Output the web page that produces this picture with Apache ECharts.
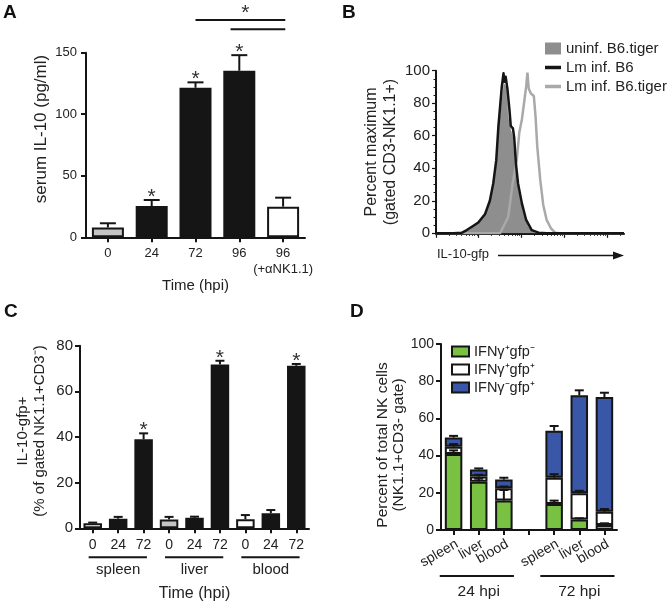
<!DOCTYPE html>
<html><head><meta charset="utf-8">
<script src="https://cdn.jsdelivr.net/npm/echarts@6/dist/echarts.min.js"></script>
<style>html,body{margin:0;padding:0;background:#fff}#c{width:670px;height:606px}</style>
</head><body><div id="c"></div>
<script>
// ---------- Panel A ----------
const catsA = ['0', '24', '72', '96', '96\n(+αNK1.1)'];
const valsA = [8, 25.4, 121.5, 135.3, 24.9];
const errA = [3.4, 4.9, 4.4, 12.7, 7.3];
const starsA = [0, 1, 1, 1, 0];
// significance bracket: [fromCategory, toCategory, level(pg/ml), star]
const bracketsA = [[2, 4.05, 176.5, 1], [2.8, 4.05, 169, 0]];

// ---------- Panel B (x in decades of IL-10-gfp, y in % of max) ----------
const histUninf = [[0.56,0],[0.80,2.5],[1.03,7.8],[1.19,13.9],[1.30,25.6],[1.41,44],[1.48,67.6],[1.55,84],[1.59,92.2],[1.64,90],[1.69,71.7],[1.75,63.5],[1.80,59.4],[1.85,41],[1.93,26.6],[2.04,12.3],[2.16,4.1],[2.28,0.6],[2.36,0]];
const histB6 = [[0,0],[0.41,0],[0.60,0.3],[0.72,2],[0.84,4],[0.99,6.6],[1.15,11.9],[1.26,20],[1.34,30.7],[1.41,45],[1.46,65.6],[1.50,77.9],[1.54,90.2],[1.58,98.4],[1.60,93.2],[1.63,96.3],[1.67,89.1],[1.72,75.8],[1.75,66],[1.80,64.5],[1.83,59],[1.87,43],[1.92,30.7],[2.01,18.4],[2.11,8.2],[2.24,2],[2.40,0.4],[2.59,0],[4.4,0]];
const histB6tiger = [[0,0],[1.50,0],[1.69,10],[1.79,30],[1.89,45],[1.95,62],[2.01,70],[2.06,80],[2.11,90.2],[2.14,98.8],[2.17,89],[2.22,86],[2.29,84.4],[2.33,71.7],[2.37,53.3],[2.44,32.8],[2.51,17.4],[2.59,8.2],[2.69,3.1],[2.79,0.4],[2.90,0],[4.4,0]];
const decadesB = [0, 1, 2, 3, 4];
const namesB = ['uninf. B6.tiger', 'Lm inf. B6', 'Lm inf. B6.tiger'];

// ---------- Panel C ----------
const catsC = ['0', '24', '72', '0', '24', '72', '0', '24', '72'];
const valsC = [2.2, 4.2, 39.0, 3.9, 4.6, 71.8, 4.0, 6.6, 71.2];
const errC = [0.3, 0.8, 2.6, 1.1, 0.5, 1.6, 1.8, 1.4, 0.8];
const starsC = [0, 0, 1, 0, 0, 1, 0, 0, 1];
const groupsC = ['spleen', 'liver', 'blood'];
const groupRangesC = [[0, 2], [3, 5], [6, 8]];

// ---------- Panel D ----------
const catsD = ['spleen', 'liver', 'blood', '', 'spleen', 'liver', 'blood'];
const greenD = [40.8, 26.0, 15.8, null, 14.0, 5.7, 2.7];
const whiteD = [4.0, 2.7, 6.6, null, 14.1, 14.0, 7.1];
const blueD = [4.9, 3.8, 4.7, null, 25.3, 52.7, 61.7];
const errGreenD = [2.0, 1.6, 5.7, null, 1.8, 0.6, 0.9];
const errWhiteD = [1.4, 1.0, 1.0, null, 1.9, 1.4, 1.5];
const errBlueD = [0.9, 0.6, 1.0, null, 2.5, 2.7, 2.3];
const namesD = ['IFNγ⁺gfp⁻', 'IFNγ⁺gfp⁺', 'IFNγ⁻gfp⁺'];
const groupsD = ['24 hpi', '72 hpi'];
const groupRangesD = [[0, 2], [4, 6]];

// ---------- styles ----------
const FONT = "'Liberation Sans', Arial, Helvetica, sans-serif";
const INK = '#151515';
const TXT = '#222';
const fillsA = ['#c4c4c4', INK, INK, INK, '#ffffff'];
const fillsC = ['#ffffff', INK, INK, '#c4c4c4', INK, INK, '#ffffff', INK, INK];
const colorsD = ['#79c143', '#ffffff', '#3a56a6'];

const chart = echarts.init(document.getElementById('c'), null, {renderer: 'canvas'});

function catX(api, pos) {
  const a = api.coord([0, 0])[0], b = api.coord([1, 0])[0];
  return a + pos * (b - a);
}
function errRender(capHalf, starFont) {
  return function (params, api) {
    const i = api.value(0), v = api.value(1), e = api.value(2), s = api.value(3);
    const p0 = api.coord([i, v]), p1 = api.coord([i, v + e]);
    const ch = [
      {type: 'line', shape: {x1: p0[0], y1: p0[1], x2: p1[0], y2: p1[1]}, style: {stroke: INK, lineWidth: 2}},
      {type: 'line', shape: {x1: p1[0] - capHalf, y1: p1[1], x2: p1[0] + capHalf, y2: p1[1]}, style: {stroke: INK, lineWidth: 2}}
    ];
    if (s) ch.push({type: 'text', x: p1[0], y: p1[1] - 3, style: {text: '*', fill: '#333', font: starFont + 'px ' + FONT, align: 'center', verticalAlign: 'middle'}});
    return {type: 'group', children: ch};
  };
}
function groupRender(names, lineOff, textOff, padL, padR, fs) {
  return function (params, api) {
    const r = [api.value(0), api.value(1)];
    const y0 = api.coord([0, 0])[1];
    const x1 = catX(api, r[0] - padL), x2 = catX(api, r[1] + padR);
    const xm = catX(api, (r[0] + r[1]) / 2);
    return {type: 'group', children: [
      {type: 'line', shape: {x1: x1, y1: y0 + lineOff, x2: x2, y2: y0 + lineOff}, style: {stroke: INK, lineWidth: 2}},
      {type: 'text', x: xm, y: y0 + textOff, style: {text: names[params.dataIndex], fill: TXT, font: fs + 'px ' + FONT, align: 'center', verticalAlign: 'middle'}}
    ]};
  };
}

const axisLineS = {show: true, lineStyle: {color: INK, width: 2}};
const tickS = (len) => ({show: true, length: len, lineStyle: {color: INK, width: 2}});

// minor log ticks for panel B
const minorB = [];
decadesB.forEach(d => { for (let k = 2; k <= 9; k++) { const v = d + Math.log10(k); if (v <= 4.4) minorB.push(v); } });

const errDataD = [];
greenD.forEach((g, i) => {
  if (g == null) return;
  errDataD.push([i, g, errGreenD[i], 0]);
  errDataD.push([i, g + whiteD[i], errWhiteD[i], 0]);
  errDataD.push([i, g + whiteD[i] + blueD[i], errBlueD[i], 0]);
});

const option = {
  animation: false,
  textStyle: {fontFamily: FONT, color: TXT},
  grid: [
    {left: 86, top: 52.7, width: 219, height: 184.6},
    {left: 436, top: 70.7, width: 188, height: 162.6},
    {left: 80, top: 345.7, width: 229, height: 182.6},
    {left: 441, top: 344, width: 176, height: 186}
  ],
  xAxis: [
    {type: 'category', gridIndex: 0, data: catsA, axisLine: axisLineS, axisTick: Object.assign(tickS(5), {alignWithLabel: true}),
     axisLabel: {fontSize: 13, color: TXT, margin: 8, lineHeight: 16, interval: 0},
     name: 'Time (hpi)', nameLocation: 'middle', nameGap: 31, nameTextStyle: {fontSize: 15, color: TXT}},
    {type: 'value', gridIndex: 1, position: 'bottom', min: 0, max: 4.4, axisLine: axisLineS, splitLine: {show: false}, axisLabel: {show: false},
     axisTick: {show: true, length: 4.5, customValues: decadesB, lineStyle: {color: INK, width: 1.2}}},
    {type: 'value', gridIndex: 1, position: 'bottom', min: 0, max: 4.4, axisLine: {show: false}, splitLine: {show: false}, axisLabel: {show: false},
     axisTick: {show: true, length: 2.5, customValues: minorB, lineStyle: {color: INK, width: 1}}},
    {type: 'category', gridIndex: 2, data: catsC, axisLine: axisLineS, axisTick: Object.assign(tickS(5), {alignWithLabel: true}),
     axisLabel: {fontSize: 14, color: TXT, margin: 10, interval: 0},
     name: 'Time (hpi)', nameLocation: 'middle', nameGap: 57, nameTextStyle: {fontSize: 16, color: TXT}},
    {type: 'category', gridIndex: 3, data: catsD, axisLine: axisLineS, axisTick: Object.assign(tickS(5), {alignWithLabel: true}),
     axisLabel: {fontSize: 14, color: TXT, margin: 7, rotate: 30, verticalAlign: 'top', interval: 0}}
  ],
  yAxis: [
    {type: 'value', gridIndex: 0, min: 0, max: 150, interval: 50, axisLine: axisLineS, axisTick: tickS(5), splitLine: {show: false},
     axisLabel: {fontSize: 13, color: TXT, margin: 9},
     name: 'serum IL-10 (pg/ml)', nameLocation: 'middle', nameRotate: 90, nameGap: 36,
     nameTextStyle: {fontSize: 17, color: TXT, padding: [0, 0, 0, 32]}},
    {type: 'value', gridIndex: 1, min: 0, max: 100, interval: 20, axisLine: axisLineS, axisTick: {show: true, length: 4, lineStyle: {color: INK, width: 1.2}},
     minorTick: {show: true, splitNumber: 4, length: 2.5, lineStyle: {color: INK, width: 1}}, splitLine: {show: false}, minorSplitLine: {show: false},
     axisLabel: {fontSize: 15, color: TXT, margin: 6},
     name: 'Percent maximum\n(gated CD3-NK1.1+)', nameLocation: 'middle', nameRotate: 90, nameGap: 36,
     nameTextStyle: {fontSize: 16, lineHeight: 19, color: TXT}},
    {type: 'value', gridIndex: 2, min: 0, max: 80, interval: 20, axisLine: axisLineS, axisTick: tickS(5), splitLine: {show: false},
     axisLabel: {fontSize: 15, color: TXT, margin: 7},
     name: 'IL-10-gfp+\n(% of gated NK1.1+CD3⁻)', nameLocation: 'middle', nameRotate: 90, nameGap: 32,
     nameTextStyle: {fontSize: 15, lineHeight: 17, color: TXT, padding: [0, 0, 0, 12]}},
    {type: 'value', gridIndex: 3, min: 0, max: 100, interval: 20, axisLine: axisLineS, axisTick: tickS(5), splitLine: {show: false},
     axisLabel: {fontSize: 14, color: TXT, margin: 7},
     name: 'Percent of total NK cells\n(NK1.1+CD3- gate)', nameLocation: 'middle', nameRotate: 90, nameGap: 33,
     nameTextStyle: {fontSize: 15.5, lineHeight: 16, color: TXT, padding: [0, 16, 0, 0]}}
  ],
  legend: [
    {left: 545, top: 41, orient: 'vertical', itemWidth: 16, itemHeight: 12, itemGap: 4, padding: 0,
     textStyle: {fontSize: 15, color: TXT}, itemStyle: {borderWidth: 0},
     data: [
       {name: namesB[0], icon: 'rect', itemStyle: {color: '#8e8e8e'}},
       {name: namesB[1], icon: 'path://M0,0H16V3.5H0Z', itemStyle: {color: INK}},
       {name: namesB[2], icon: 'path://M0,0H16V3.5H0Z', itemStyle: {color: '#a9a9a9'}}
     ]},
    {left: 451, top: 344, orient: 'vertical', itemWidth: 17, itemHeight: 10, itemGap: 3, padding: 0,
     textStyle: {fontSize: 14.5, color: TXT}, icon: 'rect', itemStyle: {borderColor: INK, borderWidth: 2},
     data: namesD}
  ],
  series: [
    // A
    {type: 'bar', xAxisIndex: 0, yAxisIndex: 0, barWidth: 32,
     data: valsA.map((v, i) => ({value: v, itemStyle: {color: fillsA[i]}})),
     itemStyle: {borderColor: INK, borderWidth: 2}},
    {type: 'custom', xAxisIndex: 0, yAxisIndex: 0, z: 5, encode: {x: 0, y: 1},
     data: valsA.map((v, i) => [i, v, errA[i], starsA[i]]), renderItem: errRender(8, 21)},
    {type: 'custom', xAxisIndex: 0, yAxisIndex: 0, z: 5, encode: {x: 0, y: 2}, clip: false,
     data: bracketsA,
     renderItem: function (params, api) {
       const f = api.value(0), t = api.value(1), lv = api.value(2), s = api.value(3);
       const y = api.coord([0, lv])[1];
       const x1 = catX(api, f), x2 = catX(api, t);
       const ch = [{type: 'line', shape: {x1: x1, y1: y, x2: x2, y2: y}, style: {stroke: INK, lineWidth: 2}}];
       if (s) ch.push({type: 'text', x: (x1 + x2) / 2 + 5, y: y - 7, style: {text: '*', fill: '#333', font: '21px ' + FONT, align: 'center', verticalAlign: 'middle'}});
       return {type: 'group', children: ch};
     }},
    // B
    {type: 'line', name: namesB[2], xAxisIndex: 1, yAxisIndex: 1, data: histB6tiger, showSymbol: false, symbol: 'none',
     color: '#a9a9a9', lineStyle: {color: '#a9a9a9', width: 2.5}},
    {type: 'line', name: namesB[0], xAxisIndex: 1, yAxisIndex: 1, data: histUninf, showSymbol: false, symbol: 'none',
     color: '#8e8e8e', lineStyle: {color: '#8e8e8e', width: 0.5}, areaStyle: {color: '#8e8e8e', opacity: 1}},
    {type: 'line', name: namesB[1], xAxisIndex: 1, yAxisIndex: 1, data: histB6, showSymbol: false, symbol: 'none',
     color: INK, lineStyle: {color: INK, width: 2.5, join: 'round'}},
    // C
    {type: 'bar', xAxisIndex: 3, yAxisIndex: 2, barWidth: 18.5,
     data: valsC.map((v, i) => ({value: v, itemStyle: {color: fillsC[i]}})),
     itemStyle: {borderColor: INK, borderWidth: 2}},
    {type: 'custom', xAxisIndex: 3, yAxisIndex: 2, z: 5, encode: {x: 0, y: 1},
     data: valsC.map((v, i) => [i, v, errC[i], starsC[i]]), renderItem: errRender(4.5, 21)},
    {type: 'custom', xAxisIndex: 3, yAxisIndex: 2, z: 5, encode: {x: 0, y: 1},
     data: groupRangesC, renderItem: groupRender(groupsC, 29, 42, 0.16, 0.13, 15)},
    // D
    {type: 'bar', name: namesD[0], stack: 'd', xAxisIndex: 4, yAxisIndex: 3, barWidth: 17.5,
     data: greenD.map(v => v == null ? '-' : v), itemStyle: {color: colorsD[0], borderColor: INK, borderWidth: 2}},
    {type: 'bar', name: namesD[1], stack: 'd', xAxisIndex: 4, yAxisIndex: 3, barWidth: 17.5,
     data: whiteD.map(v => v == null ? '-' : v), itemStyle: {color: colorsD[1], borderColor: INK, borderWidth: 2}},
    {type: 'bar', name: namesD[2], stack: 'd', xAxisIndex: 4, yAxisIndex: 3, barWidth: 17.5,
     data: blueD.map(v => v == null ? '-' : v), itemStyle: {color: colorsD[2], borderColor: INK, borderWidth: 2}},
    {type: 'custom', xAxisIndex: 4, yAxisIndex: 3, z: 5, encode: {x: 0, y: 1},
     data: errDataD, renderItem: errRender(4.5, 16)},
    {type: 'custom', xAxisIndex: 4, yAxisIndex: 3, z: 5, encode: {x: 0, y: 1},
     data: groupRangesD, renderItem: groupRender(groupsD, 46, 62, 0.55, 0.4, 15.5)}
  ],
  graphic: [
    {type: 'text', left: 3, top: 3, style: {text: 'A', font: 'bold 19px ' + FONT, fill: '#111'}},
    {type: 'text', left: 342, top: 3, style: {text: 'B', font: 'bold 19px ' + FONT, fill: '#111'}},
    {type: 'text', left: 4, top: 302, style: {text: 'C', font: 'bold 19px ' + FONT, fill: '#111'}},
    {type: 'text', left: 350, top: 302, style: {text: 'D', font: 'bold 19px ' + FONT, fill: '#111'}},
    {type: 'text', left: 437, top: 248, style: {text: 'IL-10-gfp', font: '13px ' + FONT, fill: TXT}},
    {type: 'line', shape: {x1: 498, y1: 255.5, x2: 616, y2: 255.5}, style: {stroke: INK, lineWidth: 1.5}},
    {type: 'polygon', shape: {points: [[613, 251.5], [624, 255.5], [613, 259.5]]}, style: {fill: INK}}
  ]
};
chart.setOption(option);
</script></body></html>
